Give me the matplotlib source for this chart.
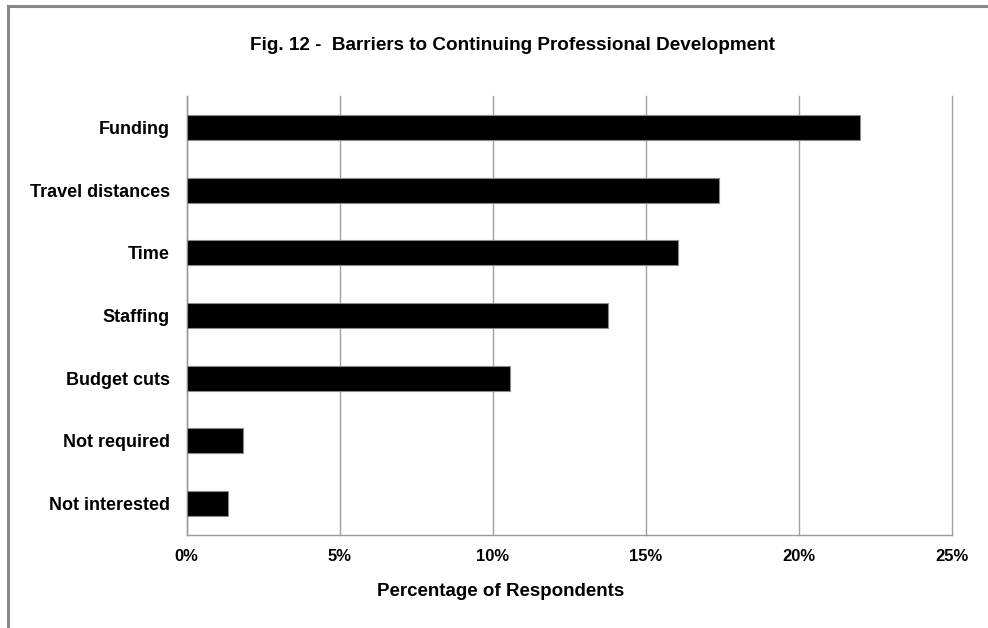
import matplotlib
matplotlib.use("Agg")
import matplotlib.pyplot as plt
from matplotlib.lines import Line2D
from matplotlib.ticker import FuncFormatter

categories = ["Funding", "Travel distances", "Time", "Staffing",
              "Budget cuts", "Not required", "Not interested"]
values = [22.0, 17.4, 16.05, 13.75, 10.55, 1.83, 1.37]
xticks = [0, 5, 10, 15, 20, 25]

plt.rcParams["font.family"] = ["Liberation Sans", "DejaVu Sans"]
plt.rcParams["font.weight"] = "bold"

fig = plt.figure(figsize=(9.88, 6.28), dpi=100)
ax = fig.add_axes([186.5 / 988, 1 - 535 / 628, (952 - 186.5) / 988, (535 - 96) / 628])

ypos = list(range(len(categories)))
ax.barh(ypos, values, height=0.4, color="black", edgecolor="#8a8a8a",
        linewidth=0.8, zorder=3)
ax.set_ylim(len(categories) - 0.5, -0.5)
ax.set_xlim(0, 25)
ax.set_yticks(ypos)
ax.set_yticklabels(categories, fontsize=13, fontweight="bold")
ax.set_xticks(xticks)
ax.xaxis.set_major_formatter(FuncFormatter(lambda v, p: f"{v:.0f}%"))
for lab in ax.get_xticklabels():
    lab.set_fontsize(12)
    lab.set_fontweight("bold")
ax.tick_params(axis="both", length=0)
ax.tick_params(axis="y", pad=12)
ax.tick_params(axis="x", pad=10)

ax.grid(axis="x", color="#a0a0a0", linewidth=1.0, zorder=0)
ax.grid(axis="y", visible=False)
for gl in ax.get_xgridlines():
    gl.set_clip_on(False)
for s in ("top", "right"):
    ax.spines[s].set_visible(False)
for s in ("left", "bottom"):
    ax.spines[s].set_color("#9a9a9a")
    ax.spines[s].set_linewidth(1.0)

fig.text(512 / 988, 1 - 45 / 628, "Fig. 12 -  Barriers to Continuing Professional Development",
         ha="center", va="center", fontsize=13.6, fontweight="bold")
fig.text(501 / 988, 1 - 591 / 628, "Percentage of Respondents",
         ha="center", va="center", fontsize=13.5, fontweight="bold")

# outer frame (top and left edges)
fig.add_artist(Line2D([8 / 988, 8 / 988], [0, 1 - 6 / 628], transform=fig.transFigure,
                      color="#888888", linewidth=2.2))
fig.add_artist(Line2D([8 / 988, 1], [1 - 6 / 628, 1 - 6 / 628], transform=fig.transFigure,
                      color="#888888", linewidth=2.2))

fig.savefig("out.png", dpi=100)
